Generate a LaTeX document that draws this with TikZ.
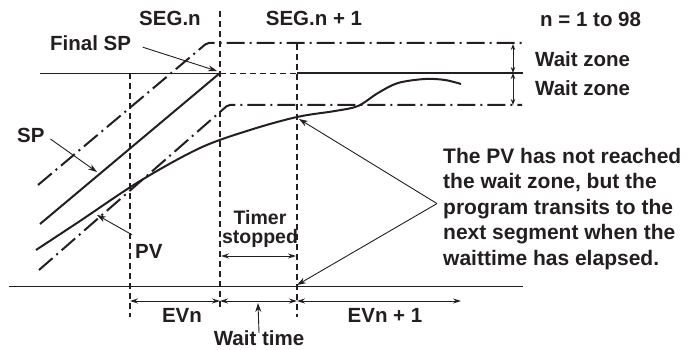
\documentclass[tikz,border=0pt]{standalone}
\usepackage{fontspec}
\setmainfont{Liberation Sans}
\usetikzlibrary{arrows.meta}
\definecolor{ink}{HTML}{231F20}
\begin{document}
\begin{tikzpicture}[x=1pt,y=-1pt,
  lbl/.style={font=\fontsize{20.5}{21}\selectfont\bfseries, inner sep=0pt, text=ink},
  thinln/.style={line width=0.9pt, ink},
  thickln/.style={line width=2pt, ink},
  dashv/.style={line width=1.1pt, ink, dash pattern=on 6pt off 4pt},
  dashdot/.style={line width=2pt, ink, dash pattern=on 18pt off 5pt on 2pt off 5pt},
  arr/.style={line width=0.9pt, ink, -{Stealth[length=9pt,width=6pt]}},
  darr/.style={line width=0.9pt, ink, {Stealth[length=8pt,width=5pt]}-{Stealth[length=8pt,width=5pt]}},
  sarr/.style={line width=0.9pt, ink, {Stealth[length=6pt,width=4.5pt]}-{Stealth[length=6pt,width=4.5pt]}}
]
\useasboundingbox (0,0) rectangle (688,350);

% key points
\coordinate (fsp) at (220,73);
\coordinate (fspt) at (217,71);
\coordinate (spt) at (97,172);
\coordinate (pvt) at (97,215);
\coordinate (pvat) at (299,119);
\coordinate (endt) at (297,285);
\coordinate (ev0) at (130,301);
\coordinate (ev1) at (220,301);
\coordinate (ev2) at (297,301);
\coordinate (ev3) at (461,301);
\coordinate (wz0) at (513,44);
\coordinate (wz1) at (513,73);
\coordinate (wz2) at (513,105);
\coordinate (ts0) at (221,256);
\coordinate (ts1) at (296,256);
\coordinate (wtt) at (258,303);

% dashed verticals
\draw[dashv] (130,73) -- (130,317);
\draw[dashv] (220,11) -- (220,308);
\draw[dashv] (297,44) -- (297,317);

% final SP level
\draw[thinln] (40,73) -- (fsp);
\draw[thinln, dash pattern=on 6pt off 4pt] (fsp) -- (297,73);
\draw[thickln] (297,73) -- (523,73);

% wait-zone limits
\draw[dashdot, rounded corners=2pt] (38,185) -- (207,43) -- (522,43);
\draw[dashdot, rounded corners=2pt] (39,270) -- (228,105) -- (522,105);

% SP ramp
\draw[thickln] (40,224) -- (fsp);

% PV curve
\draw[thickln] plot[smooth, tension=0.55] coordinates {(36,250) (80,221) (140,181) (200,148) (250,130) (297,117) (335,111) (358,106) (378,93) (398,83) (425,79) (445,80) (461,84)};

% bottom line
\draw[thinln] (9,286) -- (523,286);

% labels
\node[lbl] (segn) at (170,18.5) {SEG.n};
\node[lbl] (segn1) at (314,18.5) {SEG.n + 1};
\node[lbl, anchor=west] (nrange) at (540,19) {n = 1 to 98};
\node[lbl, anchor=west] (wz1l) at (535,59) {Wait zone};
\node[lbl, anchor=west] (wz2l) at (535,88) {Wait zone};
\node[lbl, anchor=west] (lfsp) at (50,43.5) {Final SP};
\node[lbl, anchor=west] (lsp) at (17,135) {SP};
\node[lbl, anchor=west] (lpv) at (135,251) {PV};
\node[lbl, anchor=base, align=center, font=\fontsize{19.5}{18.5}\selectfont\bfseries] (timer) at (260,243) {Timer\\stopped};
\node[lbl] (evn) at (182,315.5) {EVn};
\node[lbl] (wt) at (259,338.5) {Wait time};
\node[lbl] (evn1) at (385,315.5) {EVn + 1};
\node[lbl, anchor=base west, align=left, font=\fontsize{21}{25.5}\selectfont\bfseries] (note) at (443,265)
  {The PV has not reached\\the wait zone, but the\\program transits to the\\next segment when the\\waittime has elapsed.};
\coordinate (vtx) at ([shift={(-6,-5)}]note.west);

% callout arrows
\draw[arr, shorten <=12pt] (lfsp.east) -- (fspt);
\draw[arr, shorten <=7pt] (lsp.east) -- (spt);
\draw[arr] ([shift={(-3,-9)}]lpv.north west) -- (pvt);
\draw[arr] (vtx) -- (pvat);
\draw[arr] (vtx) -- (endt);

% wait zone arrows
\draw[sarr] (wz0) -- (wz1);
\draw[sarr] (wz1) -- (wz2);

% timer stopped
\draw[darr] (ts0) -- (ts1);

% event arrows
\draw[darr] (ev0) -- (ev1);
\draw[darr] (ev1) -- (ev2);
\draw[darr] (ev2) -- (ev3);
\draw[arr] ([yshift=-2pt]wt.north) -- (wtt);
\end{tikzpicture}
\end{document}
